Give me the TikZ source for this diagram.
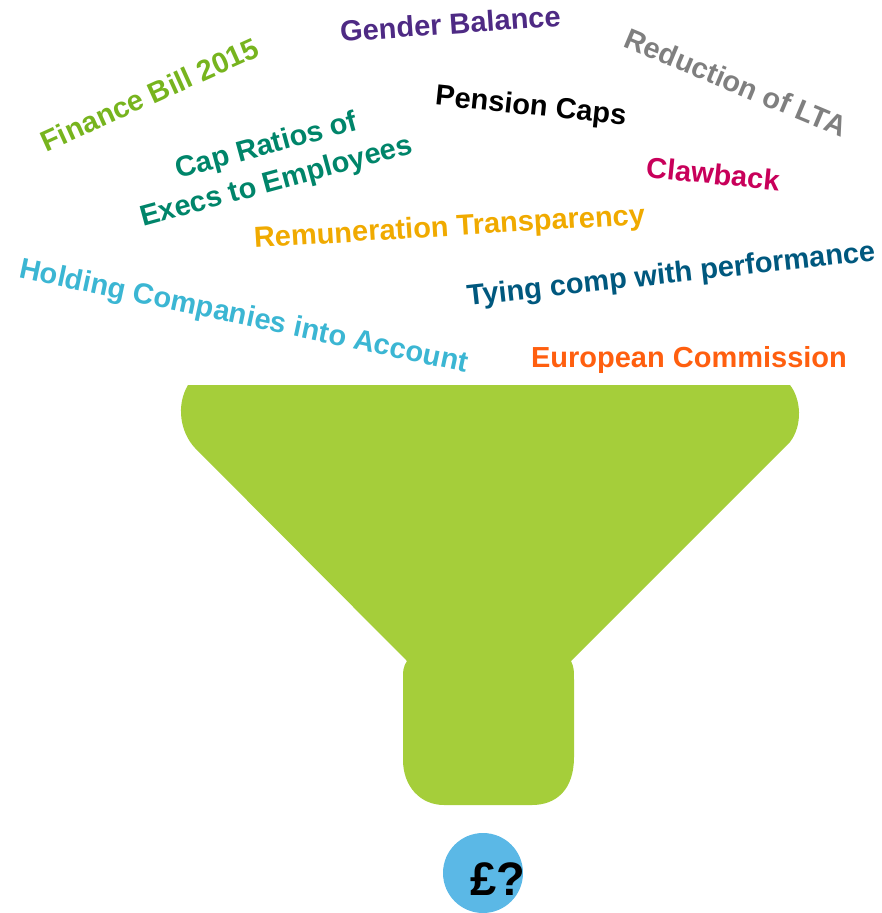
\documentclass[tikz,border=0pt]{standalone}
\usepackage{fontspec}
\setmainfont{Liberation Sans}
\usepackage{tikz}
\definecolor{funnelgreen}{HTML}{A5CE3A}
\definecolor{coinblue}{HTML}{5BB8E6}
\definecolor{billgreen}{HTML}{77B41E}
\definecolor{genderpurple}{HTML}{4E2A84}
\definecolor{ltagrey}{HTML}{7F7F7F}
\definecolor{clawmagenta}{HTML}{C8005A}
\definecolor{ratioteal}{HTML}{00856A}
\definecolor{remamber}{HTML}{F0AA00}
\definecolor{holdingblue}{HTML}{3BB6D3}
\definecolor{tyingblue}{HTML}{00587E}
\definecolor{ecorange}{HTML}{FF5F0F}
\tikzset{
    word/.style={anchor=base, inner sep=0pt, font=\bfseries\fontsize{29}{37}\selectfont}}

\begin{document}
\begin{tikzpicture}[x=1pt, y=-1pt]
                    \useasboundingbox (0,0) rectangle (882,913);

                    \fill[funnelgreen] (188,385) -- (790,385)
                        .. controls (801,399) and (803,425) .. (790,442)
                        -- (571,661) .. controls (574,668) .. (574,685)
                        -- (574,757) .. controls (574,790) and (556,805) .. (532,805)
                        -- (444,805) .. controls (420,805) and (403,786) .. (403,760)
                        -- (403,685) .. controls (403,668) .. (407,661)
                        -- (195,448) .. controls (180,432) and (176,405) .. (188,385)
                        -- cycle;

                    \node[word, text=billgreen, rotate=24.3] (bill) at (154,104) {Finance Bill 2015};
                    \node[word, text=genderpurple, rotate=4] (gender) at (451,34) {Gender Balance};
                    \node[word, text=ltagrey, rotate=-22.7] (lta) at (732,92) {Reduction of LTA};
                    \node[word, text=black, rotate=-6] (pension) at (530,115) {Pension Caps};
                    \node[word, text=clawmagenta, rotate=-5.7] (claw) at (712,184) {Clawback};
                    \node[word, anchor=center, align=center, text=ratioteal, rotate=15.2] (ratios) at (271.6,164.8) {Cap Ratios of\\Execs to Employees};
                    \node[word, text=remamber, rotate=3.5] (remun) at (450,236) {Remuneration Transparency};
                    \node[word, text=holdingblue, rotate=-12] (holding) at (242,325) {Holding Companies into Account};
                    \node[word, text=tyingblue, rotate=6.3] (tying) at (672,283) {Tying comp with performance};
                    \node[word, text=ecorange] (ec) at (689,367) {European Commission};

                    \node[shape=circle, fill=coinblue, minimum size=80pt, inner sep=0pt] (coin) at (483,873) {};
                    \node[anchor=base, inner sep=0pt, font=\bfseries\fontsize{47}{50}\selectfont] (amount) at (498,895) {£?};

                \end{tikzpicture}
\end{document}
